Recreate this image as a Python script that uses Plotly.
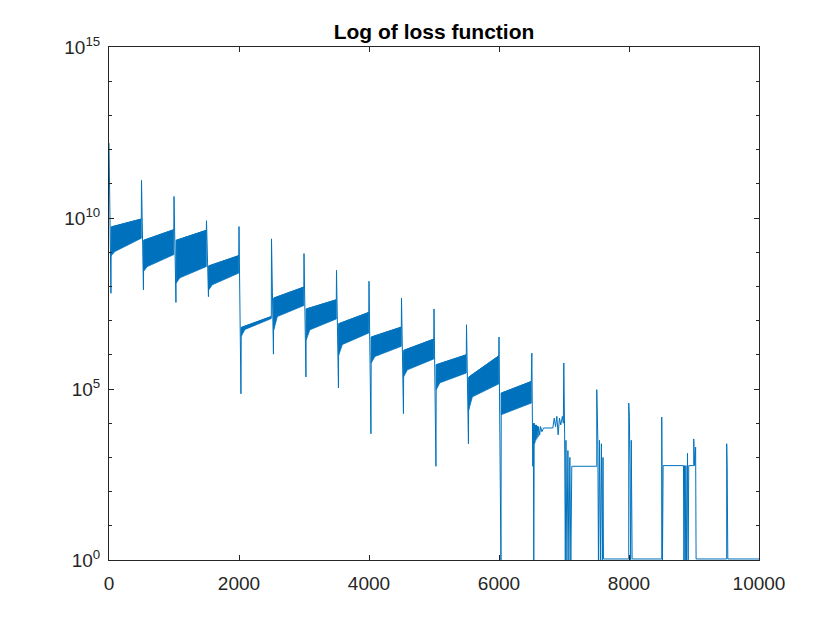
import numpy as np
import plotly.graph_objects as go

# Values, stored as log10 of the loss

################## REGULAR SEGMENTS (restart every 500 iterations) ##################

seg_start = [0, 500, 1000, 1500, 2000, 2500, 3000, 3500, 4000, 4500, 5000, 5500, 6000]
spike_top = [12.19, 11.10, 10.63, 9.92, 9.75, 9.39, 8.96, 8.47, 8.15, 7.66, 7.34, 6.88, 6.52]
spike_low = [7.80, 7.90, 7.53, 7.70, 4.86, 6.02, 5.35, 5.03, 3.69, 4.28, 2.74, 3.40, 0.00]
band_top_start = [9.74, 9.35, 9.35, 8.60, 6.80, 7.66, 7.34, 6.91, 6.52, 6.13, 5.71, 5.35, 4.88]
band_top_end = [9.97, 9.66, 9.64, 8.90, 7.12, 7.98, 7.61, 7.24, 6.81, 6.46, 6.00, 5.97, 5.22]
band_low_start = [9.02, 8.58, 8.25, 8.05, 6.74, 7.12, 6.73, 6.30, 5.95, 5.56, 5.18, 4.77, 4.30]
band_low_end = [9.41, 8.93, 8.58, 8.39, 7.06, 7.44, 7.05, 6.64, 6.25, 5.88, 5.47, 5.15, 4.59]
band_knee = [8.90, 8.45, 8.10, 7.90, 6.54, 6.73, 6.44, 6.00, 5.76, 5.37, 4.98, 4.39, 4.25]

################## LATE ITERATIONS (after 6500) ##################

tail_iter = [6505, 6520, 6528, 6535, 6542, 6546, 6550, 6555, 6560, 6566, 6575, 6582, 6590,
             6600, 6610, 6625, 6640, 6660, 6685, 6828,
             6850, 6870, 6890, 6910, 6930, 6950, 6975, 6990, 6997,
             7010, 7020, 7030, 7045, 7060, 7075, 7090, 7105, 7120, 7504, 7504,
             7520, 7530, 7545, 7560, 7575, 7590, 7600, 7607, 7996, 7996,
             8005, 8015, 8025, 8035, 8048, 8504, 8504, 8515, 8525, 8838,
             8845, 8855, 8865, 8875, 8885, 8900, 8910, 8919, 8996, 8996,
             9010, 9025, 9032, 9503, 9503, 9510, 9520, 10000]
tail_exp = [6.05, 2.74, 4.00, 0.00, 4.00, 3.40, 3.98, 3.45, 3.95, 3.50, 3.95, 3.55, 3.92,
            3.60, 3.90, 3.65, 3.90, 3.75, 3.86, 3.86,
            4.15, 3.90, 4.20, 3.66, 4.15, 3.95, 4.20, 4.00, 5.76,
            3.66, 0.00, 3.50, 0.00, 3.20, 0.00, 3.00, 0.00, 2.74, 2.74, 4.98,
            3.57, 0.00, 3.50, 0.00, 3.40, 0.00, 3.00, 0.03, 0.03, 4.59,
            4.20, 2.76, 0.00, 3.50, 0.03, 0.03, 4.18, 0.00, 2.76, 2.76,
            0.00, 2.76, 0.00, 2.76, 0.00, 3.12, 0.00, 2.76, 2.76, 3.54,
            2.76, 3.30, 0.03, 0.03, 3.40, 2.76, 0.03, 0.03]

x_ticks = [0, 2000, 4000, 6000, 8000, 10000]

blue = '#0072BD'
axis_col = '#262626'

# Building the line path and the oscillation bands
line_x, line_y = [], []
band_x, band_y = [], []
for i, s in enumerate(seg_start):
    line_x += [s, s + 30, s + 35, s + 497]
    line_y += [spike_top[i], spike_low[i], band_top_start[i], band_top_end[i]]
    band_x += [s + 35, s + 497, s + 497, s + 90, s + 35, s + 35, None]
    band_y += [band_top_start[i], band_top_end[i], band_low_end[i], band_low_start[i],
               band_knee[i], band_top_start[i], None]

line_x += tail_iter
line_y += tail_exp

to_loss = lambda v: [None if e is None else 10 ** e for e in v]

fig = go.Figure()
fig.add_trace(go.Scatter(x=band_x, y=to_loss(band_y), mode='lines', fill='toself',
                         fillcolor=blue, line=dict(color=blue, width=0.8),
                         hoverinfo='skip', showlegend=False))
fig.add_trace(go.Scatter(x=line_x, y=to_loss(line_y), mode='lines',
                         line=dict(color=blue, width=1), showlegend=False))

font = dict(family='Arial, Liberation Sans, sans-serif', size=19, color=axis_col)

# The page body has an 8px margin, so the figure is 8px smaller than the window
fig.update_layout(
    width=832, height=622,
    margin=dict(l=101, r=81, t=39, b=70),
    paper_bgcolor='white', plot_bgcolor='white',
    font=font,
    title=dict(text='<b>Log of loss function</b>', x=0.5, xref='paper', xanchor='center',
               y=1 - 24 / 622, yref='container', yanchor='middle',
               font=dict(family='Arial, Liberation Sans, sans-serif', size=21, color='black')),
)

fig.update_xaxes(range=[0, 10000], tickvals=x_ticks, ticktext=[str(t) for t in x_ticks],
                 ticks='inside', ticklen=5, tickcolor=axis_col, showline=True,
                 linecolor=axis_col, linewidth=1, mirror='ticks', showgrid=False,
                 zeroline=False, ticklabelstandoff=6)

fig.update_yaxes(type='log', range=[0, 15], tickvals=[1, 1e5, 1e10, 1e15],
                 ticktext=['10<sup>0</sup>', '10<sup>5</sup>', '10<sup>10</sup>', '10<sup>15</sup>'],
                 ticks='inside', ticklen=5, tickcolor=axis_col, showline=True,
                 linecolor=axis_col, linewidth=1, mirror='ticks', showgrid=False,
                 zeroline=False, ticklabelstandoff=4,
                 minor=dict(tickmode='array', tickvals=[10 ** k for k in range(16)],
                            ticks='inside', ticklen=3, tickcolor=axis_col))

fig.write_html("out.html")
